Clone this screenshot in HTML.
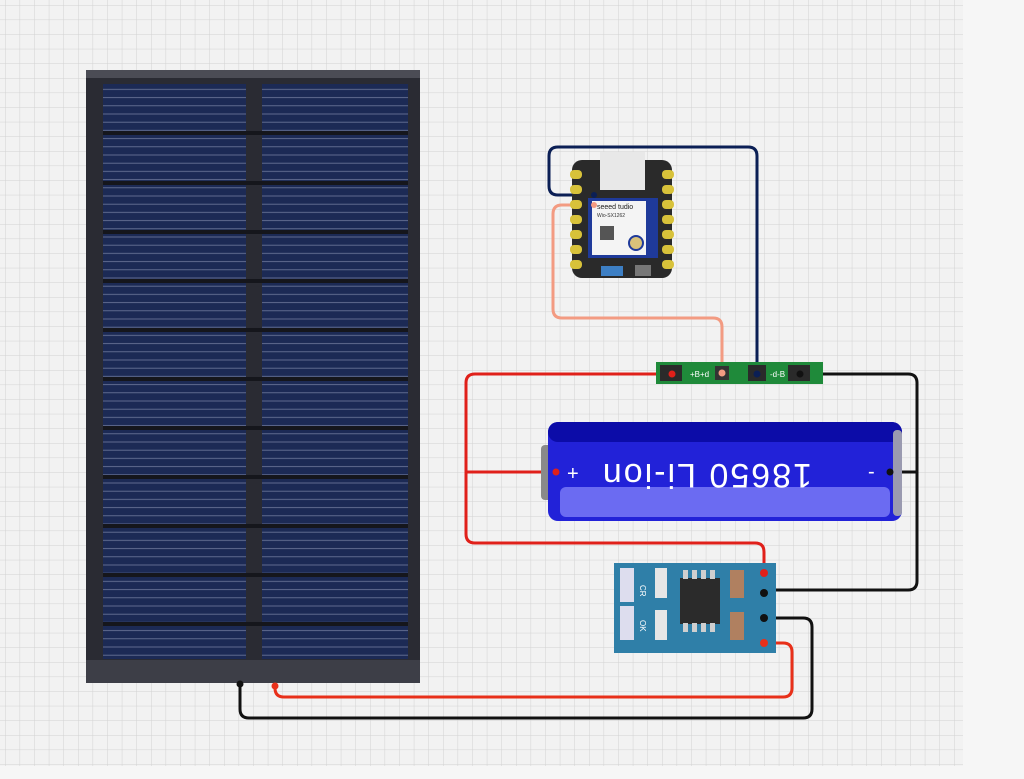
<!DOCTYPE html>
<html><head><meta charset="utf-8"><style>
html,body{margin:0;padding:0;width:1024px;height:779px;overflow:hidden;background:#f1f1f1;}
svg{display:block}
</style></head><body>
<svg width="1024" height="779" viewBox="0 0 1024 779" xmlns="http://www.w3.org/2000/svg" font-family="Liberation Sans, sans-serif">
<defs>
<pattern id="grid" x="5" y="5" width="14.6" height="14.6" patternUnits="userSpaceOnUse">
<rect width="14.6" height="14.6" fill="#f2f2f2"/>
<path d="M0 0H14.6M0 0V14.6" stroke="#d2d2d2" stroke-width="1"/>
</pattern>
<pattern id="cell" x="0" y="0" width="10" height="8.2" patternUnits="userSpaceOnUse">
<rect width="10" height="8.2" fill="#1c2a55"/>
<rect y="7" width="10" height="0.8" fill="#6f7a9c"/>
</pattern>
</defs>
<rect width="1024" height="779" fill="#f6f6f6"/>
<rect x="0" y="0" width="963" height="766" fill="url(#grid)"/>

<!-- solar panel -->
<rect x="86" y="70" width="334" height="613" fill="#2a2b33"/>
<rect x="86" y="70" width="334" height="8" fill="#4b4c55"/>
<rect x="86" y="660" width="334" height="23" fill="#3d3e47"/>
<rect x="103" y="84" width="143" height="575" fill="url(#cell)"/>
<rect x="262" y="84" width="146" height="575" fill="url(#cell)"/>
<g fill="#15161c">
<rect x="103" y="131" width="305" height="4"/>
<rect x="103" y="181" width="305" height="4"/>
<rect x="103" y="230" width="305" height="4"/>
<rect x="103" y="279" width="305" height="4"/>
<rect x="103" y="328" width="305" height="4"/>
<rect x="103" y="377" width="305" height="4"/>
<rect x="103" y="426" width="305" height="4"/>
<rect x="103" y="475" width="305" height="4"/>
<rect x="103" y="524" width="305" height="4"/>
<rect x="103" y="573" width="305" height="4"/>
<rect x="103" y="622" width="305" height="4"/>
</g>

<!-- wires -->
<g fill="none" stroke-width="3" stroke-linejoin="round">
<path d="M594 195 H558 Q549 195 549 186 V156 Q549 147 558 147 H748 Q757 147 757 156 V374" stroke="#0b1f55"/>
<path d="M594 205 H562 Q553 205 553 214 V309 Q553 318 562 318 H713 Q722 318 722 327 V372" stroke="#f39b82"/>
<path d="M672 374 H475 Q466 374 466 383 V472 H556" stroke="#e0201a"/>
<path d="M466 472 V534 Q466 543 475 543 H755 Q764 543 764 552 V573" stroke="#e0201a"/>
<path d="M800 374 H908 Q917 374 917 383 V472 H890" stroke="#111"/>
<path d="M917 472 V581 Q917 590 908 590 H765" stroke="#111"/>
<path d="M764 618 H803 Q812 618 812 627 V709 Q812 718 803 718 H249 Q240 718 240 709 V684" stroke="#111"/>
<path d="M764 643 H783 Q792 643 792 652 V688 Q792 697 783 697 H284 Q275 697 275 688 V686" stroke="#e8301a"/>
</g>
<circle cx="240" cy="684" r="3.5" fill="#111"/>
<circle cx="275" cy="686" r="3.5" fill="#e8301a"/>

<!-- XIAO -->
<rect x="572" y="160" width="100" height="118" rx="10" fill="#2a2a2a"/>
<g fill="#d8c23a">
<rect x="570" y="170" width="12" height="9" rx="4"/><rect x="570" y="185" width="12" height="9" rx="4"/><rect x="570" y="200" width="12" height="9" rx="4"/><rect x="570" y="215" width="12" height="9" rx="4"/><rect x="570" y="230" width="12" height="9" rx="4"/><rect x="570" y="245" width="12" height="9" rx="4"/><rect x="570" y="260" width="12" height="9" rx="4"/>
<rect x="662" y="170" width="12" height="9" rx="4"/><rect x="662" y="185" width="12" height="9" rx="4"/><rect x="662" y="200" width="12" height="9" rx="4"/><rect x="662" y="215" width="12" height="9" rx="4"/><rect x="662" y="230" width="12" height="9" rx="4"/><rect x="662" y="245" width="12" height="9" rx="4"/><rect x="662" y="260" width="12" height="9" rx="4"/>
</g>
<rect x="600" y="152" width="45" height="38" fill="#e8e8e8"/>
<rect x="588" y="198" width="70" height="60" fill="#1f3a9a"/>
<rect x="592" y="201" width="54" height="54" fill="#f4f4f4"/>
<text x="597" y="209" font-size="7" fill="#222">seeed  tudio</text>
<text x="597" y="217" font-size="5" fill="#333">Wio-SX1262</text>
<rect x="600" y="226" width="14" height="14" fill="#555"/>
<circle cx="636" cy="243" r="7" fill="#d9c27a" stroke="#1f3a9a" stroke-width="2"/>
<rect x="601" y="266" width="22" height="10" fill="#3d7fc4"/>
<rect x="635" y="265" width="16" height="11" fill="#777"/>
<circle cx="594" cy="195" r="3" fill="#0b1f55"/>
<circle cx="594" cy="205" r="3" fill="#f39b82"/>

<!-- protection board -->
<rect x="656" y="362" width="167" height="22" fill="#1f8a3a"/>
<rect x="660" y="365" width="22" height="16" fill="#2a2a2a"/>
<rect x="715" y="366" width="14" height="14" fill="#333"/>
<rect x="748" y="365" width="18" height="16" fill="#2a2a2a"/>
<rect x="788" y="365" width="22" height="16" fill="#2a2a2a"/>
<text x="690" y="377" font-size="8" fill="#fff">+B+d</text>
<text x="770" y="377" font-size="8" fill="#fff">-d-B</text>
<circle cx="672" cy="374" r="3.5" fill="#e0201a"/>
<circle cx="722" cy="373" r="3.5" fill="#f39b82"/>
<circle cx="757" cy="374" r="3.5" fill="#0b1f55"/>
<circle cx="800" cy="374" r="3.5" fill="#111"/>

<!-- battery -->
<rect x="541" y="445" width="14" height="55" rx="4" fill="#8a8a8a"/>
<rect x="548" y="422" width="354" height="99" rx="10" fill="#2222d8"/>
<rect x="548" y="422" width="354" height="20" rx="10" fill="#0c0ca8"/>
<rect x="560" y="487" width="330" height="30" rx="6" fill="#6b6bf2"/>
<rect x="893" y="430" width="9" height="86" rx="4" fill="#9a9ab0"/>
<text x="567" y="480" font-size="20" fill="#fff">+</text>
<text x="868" y="478" font-size="20" fill="#fff">-</text>
<text x="0" y="0" font-size="34" fill="#fff" letter-spacing="2" transform="translate(812 464) rotate(180)">18650 Li-ion</text>
<circle cx="556" cy="472" r="3.5" fill="#e0201a"/>
<circle cx="890" cy="472" r="3.5" fill="#111"/>

<!-- charger module -->
<rect x="614" y="563" width="162" height="90" fill="#2f7fa8"/>
<rect x="620" y="568" width="14" height="34" fill="#dde" /><rect x="620" y="606" width="14" height="34" fill="#dde"/>
<rect x="655" y="568" width="12" height="30" fill="#e6e6e6"/><rect x="655" y="610" width="12" height="30" fill="#e6e6e6"/>
<rect x="680" y="578" width="40" height="46" fill="#2b2b2b"/>
<g fill="#cfcfcf"><rect x="683" y="570" width="5" height="9"/><rect x="692" y="570" width="5" height="9"/><rect x="701" y="570" width="5" height="9"/><rect x="710" y="570" width="5" height="9"/><rect x="683" y="623" width="5" height="9"/><rect x="692" y="623" width="5" height="9"/><rect x="701" y="623" width="5" height="9"/><rect x="710" y="623" width="5" height="9"/></g>
<rect x="730" y="570" width="14" height="28" fill="#b08060"/><rect x="730" y="612" width="14" height="28" fill="#b08060"/>
<text x="640" y="585" font-size="8" fill="#fff" transform="rotate(90 640 585)">CR</text>
<text x="640" y="620" font-size="8" fill="#fff" transform="rotate(90 640 620)">OK</text>
<circle cx="764" cy="573" r="4" fill="#e0201a"/>
<circle cx="764" cy="593" r="4" fill="#111"/>
<circle cx="764" cy="618" r="4" fill="#111"/>
<circle cx="764" cy="643" r="4" fill="#e8301a"/>
</svg>
</body></html>
